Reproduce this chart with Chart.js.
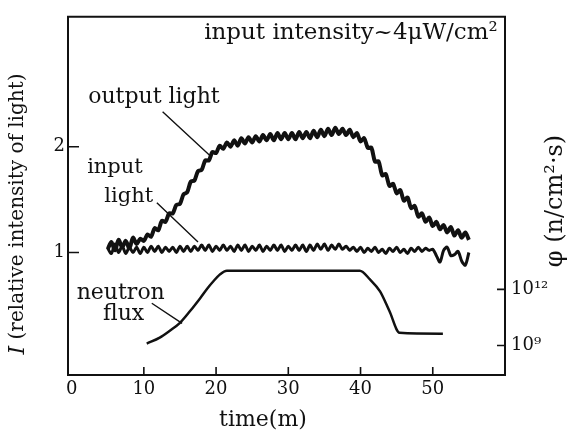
<!DOCTYPE html>
<html>
<head>
<meta charset="utf-8">
<script src="https://cdn.jsdelivr.net/npm/chart.js@4.4.1/dist/chart.umd.min.js"></script>
<style>
  html, body { margin: 0; padding: 0; background: #fff; }
  #wrap { width: 573px; height: 438px; }
</style>
</head>
<body>
<div id="wrap"><canvas id="chart" width="573" height="438"></canvas></div>
<script>
// time (min) for the two light traces
const lightTime = [
  5, 5.5, 6, 6.5, 7, 7.5, 8, 8.5, 9, 9.5,
  10, 10.5, 11, 11.5, 12, 12.5, 13, 13.5, 14, 14.5,
  15, 15.5, 16, 16.5, 17, 17.5, 18, 18.5, 19, 19.5,
  20, 20.5, 21, 21.5, 22, 22.5, 23, 23.5, 24, 24.5,
  25, 25.5, 26, 26.5, 27, 27.5, 28, 28.5, 29, 29.5,
  30, 30.5, 31, 31.5, 32, 32.5, 33, 33.5, 34, 34.5,
  35, 35.5, 36, 36.5, 37, 37.5, 38, 38.5, 39, 39.5,
  40, 40.5, 41, 41.5, 42, 42.5, 43, 43.5, 44, 44.5,
  45, 45.5, 46, 46.5, 47, 47.5, 48, 48.5, 49, 49.5,
  50, 50.5, 51, 51.5, 52, 52.5, 53, 53.5, 54, 54.5, 55
];
// relative intensity
const outputLight = [
  1.03, 1.10, 1.02, 1.12, 1.05, 1.11, 1.04, 1.14, 1.08, 1.13,
  1.11, 1.17, 1.15, 1.23, 1.21, 1.30, 1.29, 1.37, 1.37, 1.45,
  1.46, 1.55, 1.57, 1.67, 1.68, 1.77, 1.78, 1.87, 1.87, 1.95,
  1.94, 2.01, 1.98, 2.04, 2.00, 2.06, 2.01, 2.08, 2.03, 2.09,
  2.04, 2.10, 2.05, 2.11, 2.06, 2.12, 2.06, 2.13, 2.07, 2.13,
  2.07, 2.13, 2.07, 2.14, 2.08, 2.14, 2.08, 2.15, 2.09, 2.16,
  2.10, 2.17, 2.11, 2.18, 2.12, 2.17, 2.11, 2.16, 2.09, 2.13,
  2.05, 2.08, 1.99, 1.99, 1.86, 1.86, 1.73, 1.74, 1.63, 1.65,
  1.56, 1.59, 1.49, 1.52, 1.42, 1.44, 1.34, 1.37, 1.29, 1.33,
  1.25, 1.29, 1.22, 1.26, 1.19, 1.24, 1.16, 1.21, 1.14, 1.19, 1.12
];
const inputLight = [
  1.04, 0.99, 1.08, 1.00, 1.06, 0.99, 1.05, 1.00, 1.05, 0.99,
  1.05, 1.00, 1.06, 1.01, 1.06, 1.00, 1.05, 1.01, 1.05, 1.00,
  1.06, 1.01, 1.06, 1.01, 1.06, 1.02, 1.07, 1.02, 1.07, 1.01,
  1.06, 1.02, 1.07, 1.02, 1.06, 1.01, 1.07, 1.02, 1.07, 1.01,
  1.06, 1.02, 1.07, 1.01, 1.06, 1.02, 1.07, 1.02, 1.07, 1.01,
  1.06, 1.02, 1.07, 1.02, 1.07, 1.01, 1.07, 1.02, 1.08, 1.03,
  1.08, 1.02, 1.07, 1.03, 1.08, 1.03, 1.06, 1.02, 1.05, 1.01,
  1.05, 1.00, 1.04, 1.01, 1.05, 1.00, 1.03, 0.99, 1.04, 1.01,
  1.05, 1.00, 1.03, 0.99, 1.04, 1.01, 1.05, 1.01, 1.04, 1.02,
  1.03, 0.97, 0.91, 1.02, 1.05, 0.97, 0.98, 1.01, 0.92, 0.88, 1.00
];
// neutron flux: time (min) and log10 of phi (n/cm2.s)
const fluxTime = [10.4, 12.2, 13.6, 15.0, 16.4, 17.8, 18.9, 19.6, 20.5, 21.5, 39.9, 41.3, 42.7, 44.0, 45.4, 51.4];
const fluxLog = [9.1, 9.42, 9.79, 10.21, 10.84, 11.53, 12.1, 12.42, 12.79, 13.0, 13.0, 12.53, 11.89, 10.84, 9.68, 9.63];

const timeTicks = [0, 10, 20, 30, 40, 50];
const intensityTicks = [1, 2];
const fluxTicks = [9, 12];
const supDigits = { "0": "⁰", "1": "¹", "2": "²", "3": "³", "4": "⁴", "5": "⁵", "6": "⁶", "7": "⁷", "8": "⁸", "9": "⁹" };

const ink = "#111";
const serif = "'DejaVu Serif', 'Liberation Serif', serif";

// text labels placed in data units (time, relative intensity)
const notes = [
  { text: "input intensity~4μW/cm²", x: 59.0, y: 3.07, size: 23, align: "right" },
  { text: "output light", x: 11.4, y: 2.47, size: 22, align: "center" },
  { text: "input", x: 6.0, y: 1.80, size: 21, align: "center" },
  { text: "light", x: 7.9, y: 1.53, size: 21, align: "center" },
  { text: "neutron", x: 6.8, y: 0.61, size: 22, align: "center" },
  { text: "flux", x: 7.2, y: 0.42, size: 22, align: "center" }
];
const leaders = [
  [12.6, 2.33, 19.1, 1.92],
  [11.8, 1.47, 17.5, 1.10],
  [11.1, 0.52, 15.3, 0.33]
];

const toPoints = (xs, ys) => xs.map((t, i) => ({ x: t, y: ys[i] }));

const decor = {
  id: "decor",
  afterDraw(chart) {
    const { ctx, chartArea: a, scales } = chart;
    const { x, y, y1 } = scales;
    ctx.save();
    ctx.strokeStyle = ink;
    ctx.fillStyle = ink;
    ctx.lineWidth = 2;

    // top of the frame
    ctx.beginPath();
    ctx.moveTo(a.left - 1, a.top);
    ctx.lineTo(a.right + 1, a.top);
    ctx.stroke();

    // inward tick marks
    ctx.lineWidth = 1.6;
    ctx.beginPath();
    timeTicks.filter((t) => t > 0).forEach((t) => {
      const px = x.getPixelForValue(t);
      ctx.moveTo(px, a.bottom);
      ctx.lineTo(px, a.bottom - 8);
    });
    intensityTicks.forEach((v) => {
      const py = y.getPixelForValue(v);
      ctx.moveTo(a.left, py);
      ctx.lineTo(a.left + 11, py);
    });
    fluxTicks.forEach((v) => {
      const py = y1.getPixelForValue(v);
      ctx.moveTo(a.right, py);
      ctx.lineTo(a.right - 8, py);
    });
    ctx.stroke();

    // leader lines
    ctx.lineWidth = 1.4;
    ctx.beginPath();
    leaders.forEach(([x0, y0, x1, y1v]) => {
      ctx.moveTo(x.getPixelForValue(x0), y.getPixelForValue(y0));
      ctx.lineTo(x.getPixelForValue(x1), y.getPixelForValue(y1v));
    });
    ctx.stroke();

    // notes
    ctx.textBaseline = "middle";
    notes.forEach((n) => {
      ctx.font = `${n.size}px ${serif}`;
      ctx.textAlign = n.align;
      ctx.fillText(n.text, x.getPixelForValue(n.x), y.getPixelForValue(n.y));
    });

    // left axis title
    ctx.save();
    ctx.translate(18, 214);
    ctx.rotate(-Math.PI / 2);
    ctx.textAlign = "left";
    ctx.font = `italic 22px ${serif}`;
    const head = "I";
    const wHead = ctx.measureText(head).width;
    ctx.font = `20px ${serif}`;
    const rest = " (relative intensity of light)";
    const wRest = ctx.measureText(rest).width;
    const start = -(wHead + wRest) / 2;
    ctx.font = `italic 22px ${serif}`;
    ctx.fillText(head, start, 0);
    ctx.font = `20px ${serif}`;
    ctx.fillText(rest, start + wHead, 0);
    ctx.restore();

    // right axis title
    ctx.save();
    ctx.translate(556, 201);
    ctx.rotate(-Math.PI / 2);
    ctx.textAlign = "center";
    ctx.font = `24px ${serif}`;
    ctx.fillText("φ (n/cm²·s)", 0, 0);
    ctx.restore();

    // bottom axis title
    ctx.textAlign = "center";
    ctx.font = `22px ${serif}`;
    ctx.fillText("time(m)", 263, 420);

    ctx.restore();
  }
};

new Chart(document.getElementById("chart"), {
  type: "line",
  data: {
    datasets: [
      {
        label: "output light",
        data: toPoints(lightTime, outputLight),
        borderColor: ink,
        borderWidth: 4,
        tension: 0.3,
        pointRadius: 0,
        yAxisID: "y"
      },
      {
        label: "input light",
        data: toPoints(lightTime, inputLight),
        borderColor: ink,
        borderWidth: 3,
        tension: 0.3,
        pointRadius: 0,
        yAxisID: "y"
      },
      {
        label: "neutron flux",
        data: toPoints(fluxTime, fluxLog),
        borderColor: ink,
        borderWidth: 2.5,
        cubicInterpolationMode: "monotone",
        pointRadius: 0,
        yAxisID: "y1"
      }
    ]
  },
  options: {
    responsive: false,
    animation: false,
    layout: { padding: { top: 11, left: 0, right: 0, bottom: 0 } },
    plugins: { legend: { display: false }, tooltip: { enabled: false } },
    scales: {
      x: {
        type: "linear",
        min: -0.5,
        max: 60,
        afterBuildTicks: (s) => { s.ticks = timeTicks.map((v) => ({ value: v })); },
        afterFit: (s) => { s.height = 63; },
        grid: { display: false, drawTicks: false },
        border: { display: true, color: ink, width: 2 },
        ticks: { color: ink, padding: 4, maxRotation: 0, font: { family: serif, size: 18 } }
      },
      y: {
        type: "linear",
        position: "left",
        min: -0.158,
        max: 3.228,
        afterBuildTicks: (s) => { s.ticks = intensityTicks.map((v) => ({ value: v })); },
        afterFit: (s) => { s.width = 68; },
        grid: { display: false, drawTicks: false },
        border: { display: true, color: ink, width: 2 },
        ticks: { color: ink, padding: 3, font: { family: serif, size: 18 } }
      },
      y1: {
        type: "linear",
        position: "right",
        min: 7.42,
        max: 26.58,
        afterBuildTicks: (s) => { s.ticks = fluxTicks.map((v) => ({ value: v })); },
        afterFit: (s) => { s.width = 68; },
        grid: { display: false, drawTicks: false },
        border: { display: true, color: ink, width: 2 },
        ticks: {
          color: ink,
          padding: 6,
          font: { family: serif, size: 18 },
          callback: (v) => "10" + String(v).split("").map((d) => supDigits[d]).join("")
        }
      }
    }
  },
  plugins: [decor]
});
</script>
</body>
</html>
